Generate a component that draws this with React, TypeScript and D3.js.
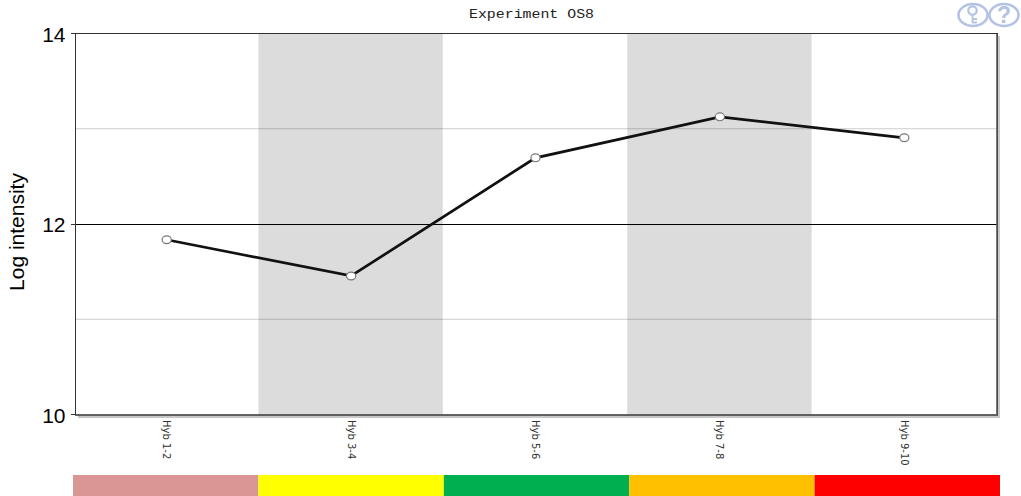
import React from "react";
import * as d3 from "d3";

const categories = ["Hyb 1-2", "Hyb 3-4", "Hyb 5-6", "Hyb 7-8", "Hyb 9-10"];
const values = [11.84, 11.46, 12.7, 13.13, 12.91];
const stripColors = ["#d99694", "#ffff00", "#00b050", "#ffc000", "#ff0000"];
const bandFills = ["#ffffff", "#dcdcdc", "#ffffff", "#dcdcdc", "#ffffff"];
const yTicks = [10, 12, 14];
const minorTicks = [11, 13];
const title = "Experiment OS8";
const yLabel = "Log intensity";

const W = 1021, H = 496;
const L = 76, R = 997, T = 34, B = 415;

export default function App() {
  const x = d3.scaleBand<string>().domain(categories).range([L - 1, R]);
  const y = d3.scaleLinear().domain([10, 14]).range([B, T]);
  const strip = d3.scaleBand<string>().domain(categories).range([73, 1000]);
  const cx = (c: string) => (x(c) as number) + x.bandwidth() / 2;
  const line = d3.line<number>().x((_, i) => cx(categories[i]) - 0.5).y((d) => y(d));
  const sans = "'Liberation Sans', Arial, sans-serif";
  return (
    <svg width={W} height={H} viewBox={`0 0 ${W} ${H}`} style={{ position: "absolute", left: 0, top: 0, display: "block", background: "#fff" }}>
      <text x={469} y={18} textLength={125} lengthAdjust="spacingAndGlyphs" fontFamily="'Liberation Mono', monospace" fontSize={13} fill="#222">{title}</text>

      {/* help icons */}
      <g fill="none" stroke="#b4c2e4" strokeWidth={2.6}>
        <ellipse cx={973} cy={15} rx={14.5} ry={11} />
        <ellipse cx={1004} cy={15} rx={14.5} ry={11} />
        <circle cx={972.5} cy={10.5} r={4.2} strokeWidth={2.2} />
        <path d="M972.5 15 V23 M972.5 19 H977 M972.5 22.5 H977" strokeWidth={1.8} />
      </g>
      <text x={1004} y={23} textAnchor="middle" fontFamily={sans} fontWeight="bold" fontSize={23} fill="#b4c2e4">?</text>

      {/* shadow */}
      <rect x={L + 2} y={T + 2} width={R - L + 1} height={B - T + 1} fill="#c8c8c8" />
      <rect x={L} y={T} width={R - L} height={B - T} fill="#fff" />

      {categories.map((c, i) => (
        <rect key={c} x={(x(c) as number) - 1} y={T} width={x.bandwidth() + 1} height={B - T} fill={bandFills[i]} />
      ))}

      {minorTicks.map((t) => (
        <line key={t} x1={L} x2={R} y1={y(t) - 0.5} y2={y(t) - 0.5} stroke="#000" strokeOpacity={0.2} strokeWidth={1} />
      ))}
      {yTicks.filter((t) => t === 12).map((t) => (
        <line key={t} x1={L} x2={R} y1={Math.round(y(t)) - 0.5} y2={Math.round(y(t)) - 0.5} stroke="#000" strokeWidth={1} />
      ))}

      <rect x={L - 0.5} y={T - 0.5} width={R - L + 1} height={B - T + 0.5} fill="none" stroke="#333" strokeWidth={1} />
      <line x1={L - 1} x2={R + 1} y1={B} y2={B} stroke="#555" strokeWidth={1.6} />
      <line x1={R} x2={R} y1={T} y2={B} stroke="#555" strokeWidth={1.6} />

      {yTicks.map((t) => (
        <g key={t}>
          <line x1={L - 5} x2={L} y1={Math.round(y(t)) - 0.5} y2={Math.round(y(t)) - 0.5} stroke="#333" />
          <text x={L - 10.5} y={y(t) + 7.5} textAnchor="end" fontFamily={sans} fontSize={21} fill="#000">{t}</text>
        </g>
      ))}

      <text transform="translate(24,232) rotate(-90)" textAnchor="middle" fontFamily={sans} fontSize={21} fill="#000">{yLabel}</text>

      <path d={line(values) as string} fill="none" stroke="#111" strokeWidth={2.7} />
      {values.map((v, i) => (
        <ellipse key={categories[i]} cx={cx(categories[i]) - 0.5} cy={y(v)} rx={4.6} ry={3.9} fill="#fff" stroke="#777" strokeWidth={1.2} />
      ))}

      {categories.map((c) => (
        <text key={c} transform={`translate(${cx(c) - 4},420) rotate(90)`} fontFamily="'DejaVu Sans', sans-serif" fontSize={10} fill="#333">{c}</text>
      ))}

      {categories.map((c, i) => (
        <rect key={c} x={strip(c) as number} y={475} width={strip.bandwidth()} height={21} fill={stripColors[i]} />
      ))}
    </svg>
  );
}
